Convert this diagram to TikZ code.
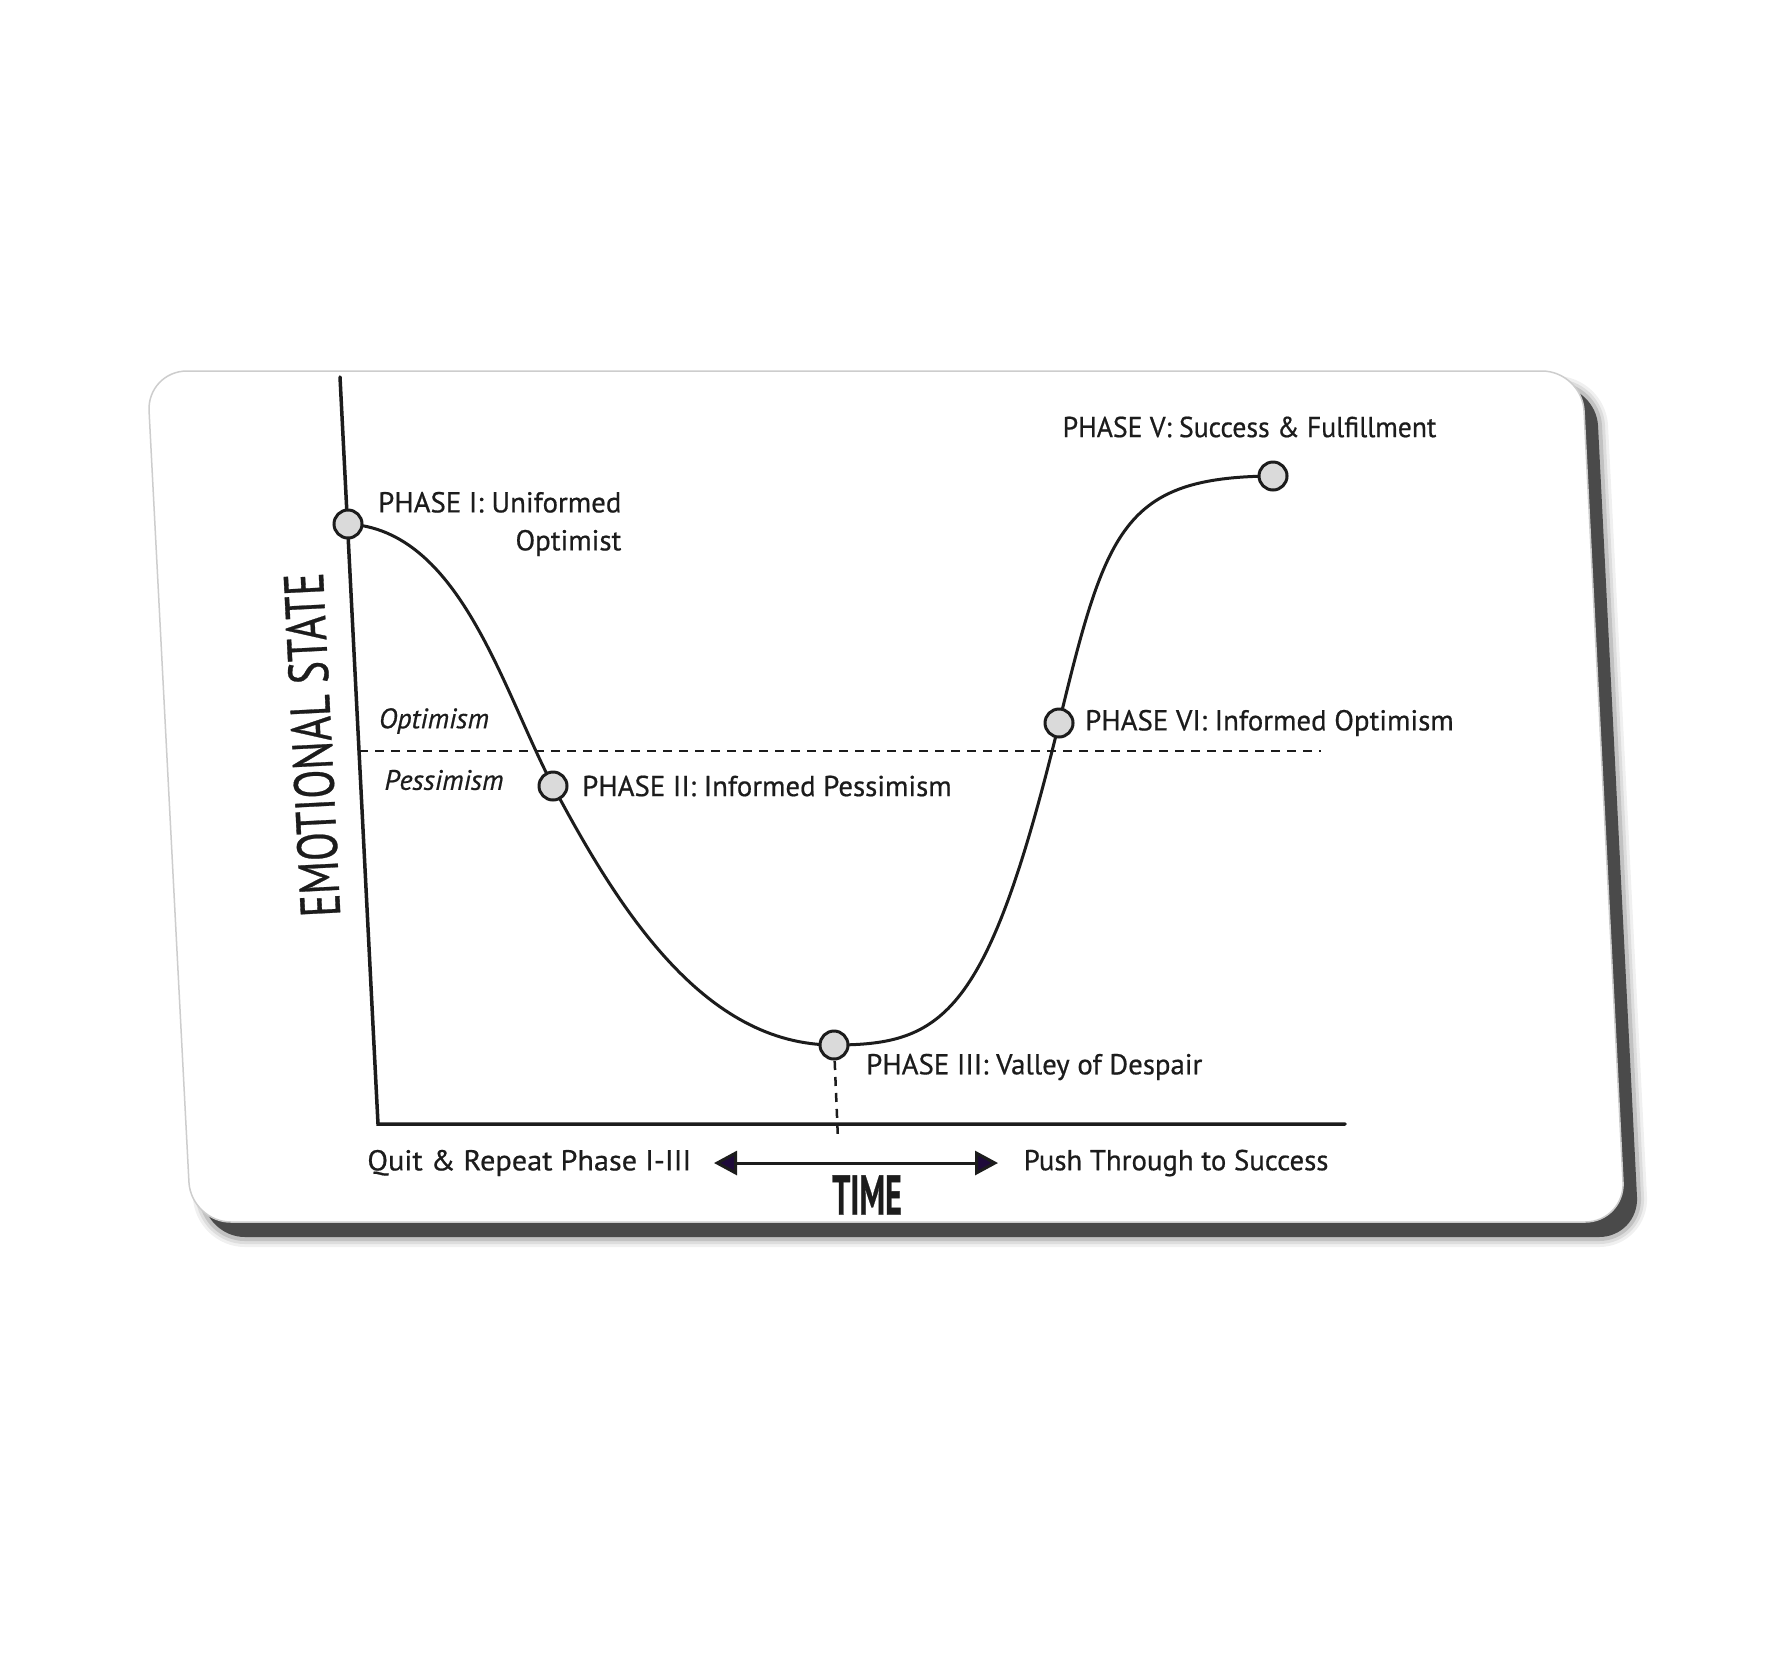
\documentclass[tikz,border=0pt]{standalone}
\usepackage{fontspec}
\setmainfont{PT Sans}[FakeBold=0.6]
\usetikzlibrary{positioning,arrows.meta}

\definecolor{inkcolor}{RGB}{28,28,28}
\definecolor{dotcolor}{RGB}{218,218,218}
\definecolor{shadowcolor}{RGB}{74,74,74}
\definecolor{tipcolor}{RGB}{30,10,58}
\definecolor{edgecolor}{RGB}{205,205,205}

\tikzset{
  phasedot/.style={circle, draw=inkcolor, fill=dotcolor, line width=0.3mm, minimum size=2.8mm, inner sep=0pt},
  phaselabel/.style={font=\fontsize{8.2}{10.8}\selectfont, text=inkcolor, inner sep=0pt},
  zonelabel/.style={font=\fontsize{8}{10}\selectfont\itshape, text=inkcolor, inner sep=0pt},
  axisline/.style={draw=inkcolor, line width=0.35mm, line cap=round},
  levelline/.style={draw=inkcolor, line width=0.25mm, dash pattern=on 0.9mm off 0.7mm},
  curveline/.style={draw=inkcolor, line width=0.3mm},
  timearrow/.style={draw=inkcolor, line width=0.3mm,
    {Triangle[length=2.3mm,width=2.4mm,fill=tipcolor]}-{Triangle[length=2.3mm,width=2.4mm,fill=tipcolor]}},
}

\begin{document}
\begin{tikzpicture}[x=0.1mm, y=-0.1mm]
  \useasboundingbox[fill=white] (0,0) rectangle (1789,1664);

  % card shadow
  \foreach \lw/\op in {2.0/0.06, 1.4/0.08, 0.8/0.12}
    \draw[shift={(14,15)}, line width=\lw mm, draw=black, opacity=\op, rounded corners=4mm, line join=round]
      (147,371) -- (1582,371) -- (1625,1222) -- (191,1222) -- cycle;
  \fill[shift={(14,15)}, shadowcolor, rounded corners=4mm]
    (147,371) -- (1582,371) -- (1625,1222) -- (191,1222) -- cycle;

  % the card
  \filldraw[fill=white, draw=edgecolor, line width=0.15mm, rounded corners=4mm]
    (147,371) -- (1582,371) -- (1625,1222) -- (191,1222) -- cycle;

  % axes
  \coordinate (ytop) at (340,377);
  \coordinate (origin) at (378,1124);
  \coordinate (xend) at (1345,1124);
  \draw[axisline] (ytop) -- (origin) -- (xend);

  % optimism / pessimism level
  \coordinate (levelstart) at (359,751);
  \coordinate (levelend) at (1321,751);
  \draw[levelline] (levelstart) -- (levelend);
  \node[zonelabel] (optimism) at (434,721) {Optimism};
  \node[zonelabel] (pessimism) at (444,780) {Pessimism};

  % the curve
  \coordinate (pI) at (348,524);
  \coordinate (pII) at (553,786);
  \coordinate (pIII) at (834,1045);
  \coordinate (pVI) at (1059,723);
  \coordinate (pV) at (1273,476);
  \draw[curveline] (pI) .. controls +(112,6) and +(-51,-97) .. (pII)
    .. controls +(66,124) and +(-130,0) .. (pIII)
    .. controls +(110,0) and +(-71,292) .. (pVI)
    .. controls +(47,-194) and +(-150,1) .. (pV);

  % drop from the valley to the time axis
  \coordinate (tmark) at (838,1140);
  \draw[levelline] (pIII) -- (tmark);

  % phases
  \node[phasedot] (phaseI) at (pI) {};
  \node[phasedot] (phaseII) at (pII) {};
  \node[phasedot] (phaseIII) at (pIII) {};
  \node[phasedot] (phaseVI) at (pVI) {};
  \node[phasedot] (phaseV) at (pV) {};

  \node[phaselabel, align=right, right=1.4mm of phaseI] (labelI) {PHASE I: Uniformed\\Optimist};
  \node[phaselabel, right=1.3mm of phaseII] (labelII) {PHASE II: Informed Pessimism};
  \node[phaselabel, right=1.6mm of phaseIII, yshift=-2.2mm] (labelIII) {PHASE III: Valley of Despair};
  \node[phaselabel, right=1.0mm of phaseVI] (labelVI) {PHASE VI: Informed Optimism};
  \node[phaselabel, anchor=west] (labelV) at (1062,427) {\scalebox{0.96}[1]{PHASE V: Success \& Fulfillment}};

  % axis titles
  \node[font=\fontsize{16}{18}\selectfont, text=inkcolor, rotate=92.9] (emotion) at (312,745)
    {\scalebox{0.75}[1]{EMOTIONAL STATE}};
  \node[font=\fontsize{16}{18}\selectfont\bfseries, text=inkcolor] (timelabel) at (867,1195)
    {\scalebox{0.57}[1]{TIME}};

  % the two ways out
  \coordinate (tleft) at (714,1163);
  \coordinate (tright) at (998,1163);
  \draw[timearrow] (tleft) -- (tright);
  \node[phaselabel, left=2.2mm of tleft] (quit) {\scalebox{1.05}[1]{Quit \& Repeat Phase I-III}};
  \node[phaselabel, right=2.5mm of tright] (push) {Push Through to Success};
\end{tikzpicture}
\end{document}
